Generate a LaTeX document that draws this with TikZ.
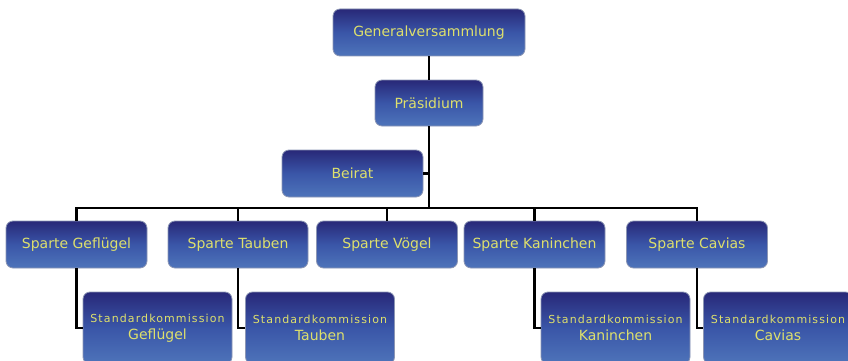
\documentclass[tikz,border=0pt]{standalone}
\usepackage{fontspec}
\newfontfamily\boxfont{DejaVu Sans}
\newfontfamily\kommfont{DejaVu Sans}[LetterSpace=10]
\definecolor{boxtop}{RGB}{40,40,120}
\definecolor{boxmid}{RGB}{58,86,168}
\definecolor{boxbottom}{RGB}{78,116,186}
\definecolor{boxrim}{RGB}{140,150,180}
\definecolor{boxtext}{RGB}{222,224,108}
\tikzset{
  orgbox/.style={rounded corners=7pt,draw=boxrim,line width=.8pt,
    top color=boxtop,bottom color=boxbottom,middle color=boxmid,
    text=boxtext,inner sep=0pt,align=center,
    font=\boxfont\fontsize{14pt}{17pt}\selectfont},
  kommbox/.style={orgbox,minimum width=149pt,minimum height=72pt},
  sparte/.style={orgbox,minimum width=141pt,minimum height=47pt},
  orgline/.style={line width=2.8pt,black},
}
\newcommand{\komm}[1]{{\kommfont\fontsize{11pt}{17pt}\selectfont Standardkommission}\\#1}
\begin{document}
\begin{tikzpicture}[x=1pt,y=-1pt]
\useasboundingbox (0,0) rectangle (848,361);
\clip (0,0) rectangle (848,361);
\coordinate (bus) at (430,208);
% boxes
\node[orgbox,minimum width=192pt,minimum height=47pt] (gen) at (429,32.5) {Generalversammlung};
\node[orgbox,minimum width=108pt,minimum height=46pt] (praes) at (429,103) {Präsidium};
\node[sparte] (beirat) at (352.5,173.5) {Beirat};
\node[sparte] (gefl) at (76.5,244.5) {Sparte Geflügel};
\node[sparte,minimum width=140pt] (taub) at (238,244.5) {Sparte Tauben};
\node[sparte] (voeg) at (387,244.5) {Sparte Vögel};
\node[sparte] (kan) at (534.5,244.5) {Sparte Kaninchen};
\node[sparte] (cav) at (697,244.5) {Sparte Cavias};
\node[kommbox] (kgefl) at (157.5,328) {\komm{Geflügel}};
\node[kommbox] (ktaub) at (320,328) {\komm{Tauben}};
\node[kommbox] (kkan) at (615.5,328) {\komm{Kaninchen}};
\node[kommbox] (kcav) at (778,328) {\komm{Cavias}};
% lines
\draw[orgline] (gen.south) -- (praes.north);
\draw[orgline] (praes.south) -- (praes.south |- bus);
\draw[orgline] (beirat.east) -- (beirat.east -| praes.south);
\draw[orgline,line cap=rect] (gefl.north |- bus) -- (cav.north |- bus);
\foreach \s in {gefl,taub,voeg,kan,cav}
  \draw[orgline] (\s.north) -- (\s.north |- bus);
\draw[orgline] (gefl.south) |- (kgefl.west);
\draw[orgline] (taub.south) |- (ktaub.west);
\draw[orgline] (kan.south) |- (kkan.west);
\draw[orgline] (cav.south) |- (kcav.west);
\end{tikzpicture}
\end{document}
